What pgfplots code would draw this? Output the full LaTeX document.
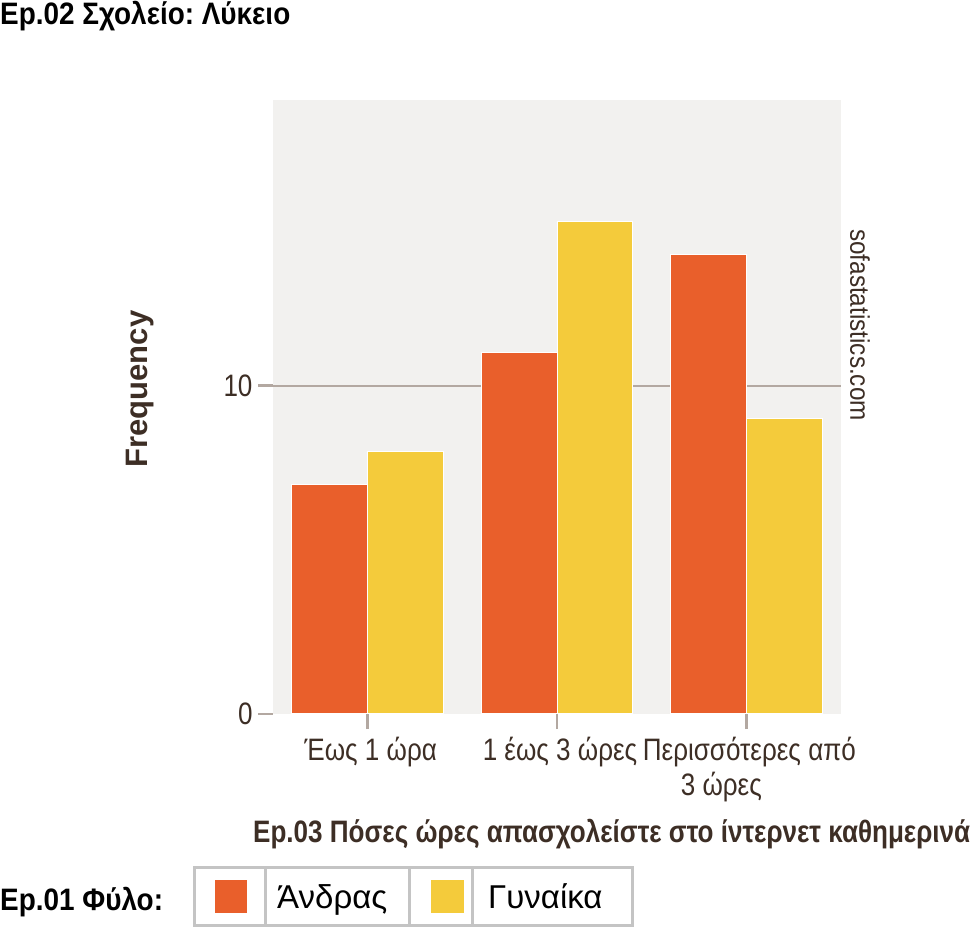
\documentclass[border=0pt]{standalone}
\usepackage{fontspec}
\setmainfont{Liberation Sans}[FakeStretch=0.9]
\newfontfamily\narrowfont{Liberation Sans}[FakeStretch=0.84]
\newfontfamily\plainfont{Liberation Sans}
\usepackage{pgfplots}
\pgfplotsset{compat=1.18}
\frenchspacing

\definecolor{andras}{HTML}{E95F2B}
\definecolor{gynaika}{HTML}{F4CB3B}
\definecolor{panel}{HTML}{F2F1EF}
\definecolor{gridc}{HTML}{B3A8A1}
\definecolor{txt}{HTML}{3D2E25}
\definecolor{boxc}{HTML}{C4C4C4}

\begin{document}
\begin{tikzpicture}
\fill[white] (0,0) rectangle (973bp,927bp);

\begin{axis}[
    at={(273bp,213bp)}, anchor=south west,
    scale only axis,
    width=568bp, height=614bp,
    xmin=-0.5, xmax=2.5,
    ymin=0, ymax=18.7,
    axis line style={draw=none},
    axis background/.style={fill=panel},
    ybar=0pt, bar width=75.7bp,
    xtick={0,1,2},
    xticklabels={{Έως 1 ώρα},{1 έως 3 ώρες},{Περισσότερες από\\\hspace*{-56bp}3 ώρες}},
    ytick={10}, extra y ticks={0},
    extra y tick style={grid=none},
    ymajorgrids,
    grid style={draw=gridc, line width=2bp},
    xtick pos=bottom, ytick pos=left,
    tick align=outside,
    major tick length=15bp,
    tick style={draw=gridc, line width=2.5bp},
    /pgf/number format/assume math mode=true,
    xticklabel style={text=txt, font=\narrowfont\fontsize{31bp}{35bp}\selectfont, align=center, yshift=-5bp, xshift=3bp},
    yticklabel style={text=txt, font=\narrowfont\fontsize{31bp}{34bp}\selectfont, xshift=-2bp},
]
\addplot[fill=andras, draw=white, line width=1bp] coordinates {(0,7) (1,11) (2,14)};
\addplot[fill=gynaika, draw=white, line width=1bp] coordinates {(0,8) (1,15) (2,9)};
\end{axis}

% titles and labels
\node[anchor=base west, inner sep=0, font=\bfseries\fontsize{31bp}{34bp}\selectfont]
  at (0bp,902bp) {Ep.02 Σχολείο: Λύκειο};
\node[rotate=90, inner sep=0, text=txt, font=\plainfont\bfseries\fontsize{31bp}{34bp}\selectfont]
  at (140bp,538bp) {Frequency};
\node[anchor=base west, inner sep=0, text=txt, font=\narrowfont\bfseries\fontsize{31bp}{34bp}\selectfont]
  at (253bp,84bp) {Ep.03 Πόσες ώρες απασχολείστε στο ίντερνετ καθημερινά};
\node[rotate=-90, inner sep=0, text=txt, font=\fontsize{27bp}{30bp}\selectfont]
  at (860bp,602bp) {sofastatistics.com};

% legend
\node[anchor=base west, inner sep=0, font=\bfseries\fontsize{31bp}{34bp}\selectfont]
  at (0bp,17bp) {Ep.01 Φύλο:};
\draw[boxc, line width=3bp] (194bp,1.5bp) rectangle (632bp,59bp);
\foreach \xx in {265,409,472} \draw[boxc, line width=3bp] (\xx bp,1.5bp) -- (\xx bp,59bp);
\fill[andras] (215bp,14bp) rectangle (247bp,47bp);
\fill[gynaika] (431bp,14bp) rectangle (464bp,47bp);
\node[anchor=base west, inner sep=0, font=\plainfont\fontsize{33bp}{36bp}\selectfont]
  at (277bp,19bp) {Άνδρας};
\node[anchor=base west, inner sep=0, font=\plainfont\fontsize{33bp}{36bp}\selectfont]
  at (488bp,19bp) {Γυναίκα};

\pgfresetboundingbox
\path[use as bounding box] (0,0) rectangle (973bp,927bp);
\end{tikzpicture}
\end{document}
